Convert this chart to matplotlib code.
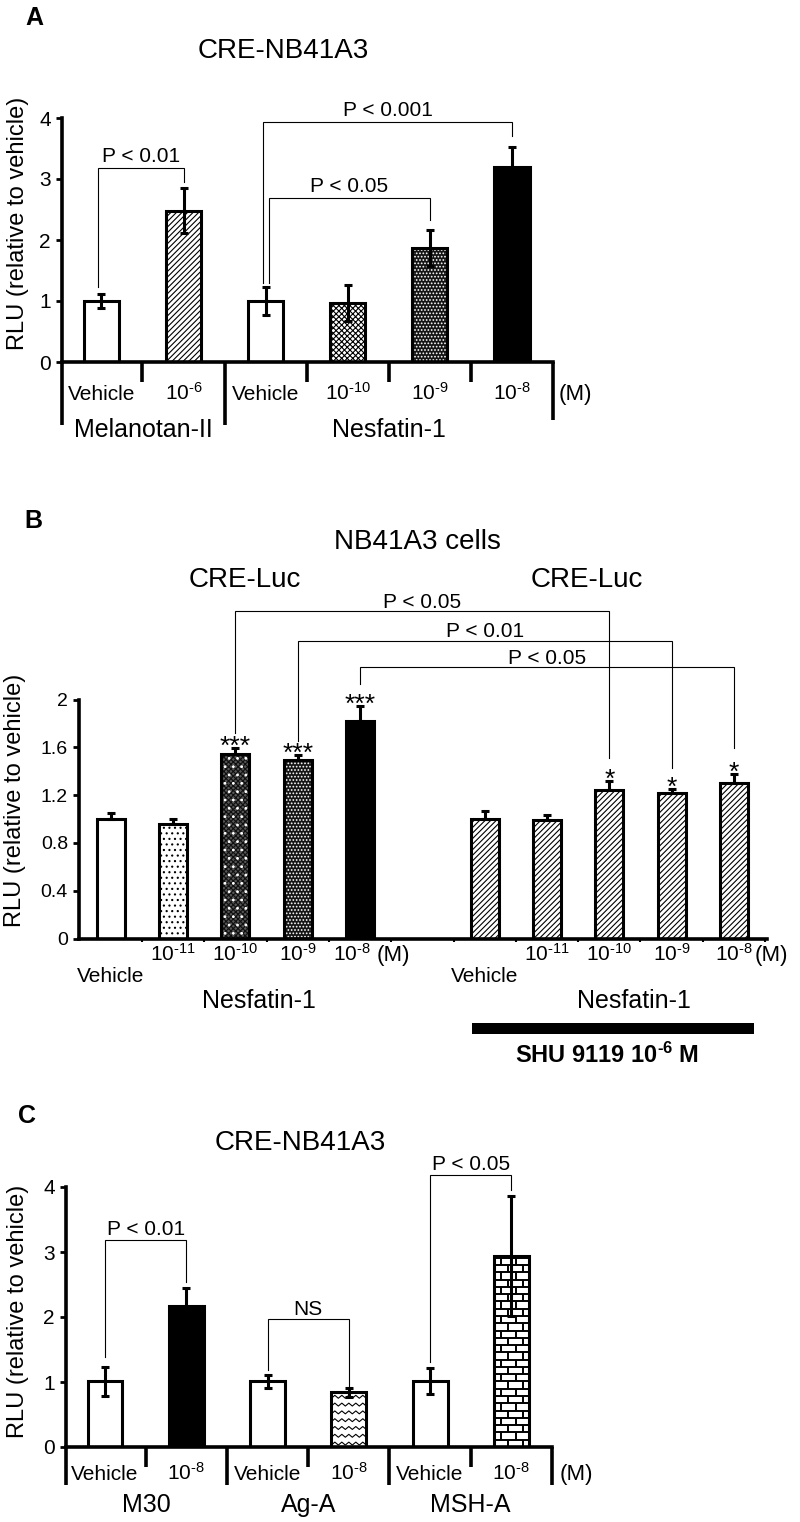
import numpy as np
import matplotlib
matplotlib.use('Agg')
import matplotlib.pyplot as plt
from matplotlib.patches import Rectangle
from matplotlib.lines import Line2D
from matplotlib.collections import LineCollection

plt.rcParams['font.family'] = ['Liberation Sans', 'DejaVu Sans']
plt.rcParams['mathtext.default'] = 'regular'
plt.rcParams['hatch.linewidth'] = 0.8

HY = '\u2010'  # hyphen used in the superscript exponents

# ---------------- Panel A data ----------------
A_labels = ['Vehicle', '$10^{%s6}$' % HY, 'Vehicle', '$10^{%s10}$' % HY, '$10^{%s9}$' % HY, '$10^{%s8}$' % HY]
A_values = [1.00, 2.48, 1.00, 0.97, 1.87, 3.19]
A_errors = [0.11, 0.37, 0.23, 0.29, 0.30, 0.33]
A_styles = ['white', 'diag', 'white', 'cross', 'darkdots', 'black']
A_groups = ['Melanotan-II', 'Nesfatin-1']
A_pvals = ['P < 0.01', 'P < 0.05', 'P < 0.001']
A_pairs = [(0, 1), (2, 4), (2, 5)]
A_bracket_h = [3.18, 2.69, 3.93]
A_leg_bottoms = [(1.23, 2.95), (1.29, 2.33), (1.29, 3.70)]
A_leg_shift = [(-0.04, 0.0), (0.04, 0.0), (-0.03, 0.0)]

# ---------------- Panel B data ----------------
B_labels = ['Vehicle', '$10^{%s11}$' % HY, '$10^{%s10}$' % HY, '$10^{%s9}$' % HY, '$10^{%s8}$' % HY]
B_ctrl = [1.00, 0.96, 1.54, 1.49, 1.82]
B_ctrl_err = [0.05, 0.04, 0.055, 0.045, 0.125]
B_shu = [1.00, 0.99, 1.245, 1.22, 1.305]
B_shu_err = [0.065, 0.04, 0.07, 0.03, 0.07]
B_ctrl_stars = ['', '', '***', '***', '***']
B_shu_stars = ['', '', '*', '*', '*']
B_ctrl_styles = ['white', 'dots', 'graycheck', 'darkdots', 'black']
B_shu_styles = ['diag', 'diag', 'diag', 'diag', 'diag']
B_pvals = ['P < 0.05', 'P < 0.01', 'P < 0.05']
B_pairs = [(2, 8), (3, 9), (4, 10)]
B_bracket_h = [2.74, 2.49, 2.27]
B_leg_bottoms = [(1.72, 1.51), (1.65, 1.43), (2.13, 1.59)]
B_yticks = [0, 0.4, 0.8, 1.2, 1.6, 2.0]
B_yticklabels = ['0', '0.4', '0.8', '1.2', '1.6', '2']

# ---------------- Panel C data ----------------
C_labels = ['Vehicle', '$10^{%s8}$' % HY] * 3
C_values = [1.01, 2.17, 1.01, 0.84, 1.01, 2.94]
C_errors = [0.22, 0.28, 0.10, 0.07, 0.20, 0.92]
C_styles = ['white', 'black', 'white', 'zigzag', 'white', 'brick']
C_groups = ['M30', 'Ag-A', 'MSH-A']
C_pvals = ['P < 0.01', 'NS', 'P < 0.05']
C_pairs = [(0, 1), (2, 3), (4, 5)]
C_bracket_h = [3.18, 1.97, 4.18]
C_leg_bottoms = [(1.38, 2.54), (1.18, 0.92), (1.31, 3.95)]

LW = 2.2
SPW = 2.6
W_FIG, H_FIG = 800, 1522

fig = plt.figure(figsize=(8.0, 15.22), dpi=100)


def ax_rect(left, right, top, bottom):
    return [left / W_FIG, 1 - bottom / H_FIG, (right - left) / W_FIG, (bottom - top) / H_FIG]


def ftext(px, py, s, **kw):
    fig.text(px / W_FIG, 1 - py / H_FIG, s, **kw)


def clip_to(artist, patch):
    artist.set_clip_path(patch.get_path(), patch.get_transform())


def draw_bar(ax, x, h, w, style):
    if style == 'white':
        ax.bar(x, h, w, facecolor='white', edgecolor='black', linewidth=LW, zorder=2)
    elif style == 'black':
        ax.bar(x, h, w, facecolor='black', edgecolor='black', linewidth=LW, zorder=2)
    elif style == 'diag':
        ax.bar(x, h, w, facecolor='white', edgecolor='black', hatch='//////', linewidth=LW, zorder=2)
    elif style == 'cross':
        ax.bar(x, h, w, facecolor='white', edgecolor='black', hatch='xxxxxx', linewidth=LW, zorder=2)
    elif style == 'dots':
        ax.bar(x, h, w, facecolor='white', edgecolor='black', hatch='...', linewidth=LW, zorder=2)
    elif style == 'darkdots':
        ax.bar(x, h, w, facecolor='#151515', edgecolor='white', hatch='.....', linewidth=0, zorder=2)
        ax.bar(x, h, w, fill=False, edgecolor='black', linewidth=LW, zorder=2.2)
    elif style == 'graycheck':
        ax.bar(x, h, w, facecolor='#555555', edgecolor='#101010', hatch='xxxxxxx', linewidth=0, zorder=2)
        ax.bar(x, h, w, fill=False, edgecolor='white', hatch='..', linewidth=0, zorder=2.1)
        ax.bar(x, h, w, fill=False, edgecolor='black', linewidth=LW, zorder=2.2)
    elif style == 'zigzag':
        bars = ax.bar(x, h, w, facecolor='white', edgecolor='black', linewidth=0, zorder=2)
        patch = bars[0]
        x0, x1 = x - w / 2, x + w / 2
        xs = np.linspace(x0, x1, 11)
        for r in np.arange(0.03, h + 0.1, 0.12):
            ys = r + 0.045 * (np.arange(len(xs)) % 2)
            ln = Line2D(xs, ys, color='black', lw=0.8, zorder=2.1)
            ax.add_line(ln)
            clip_to(ln, patch)
        ax.bar(x, h, w, fill=False, edgecolor='black', linewidth=LW, zorder=2.2)
    elif style == 'brick':
        bars = ax.bar(x, h, w, facecolor='white', edgecolor='black', linewidth=0, zorder=2)
        patch = bars[0]
        x0, x1 = x - w / 2, x + w / 2
        rh = 0.112
        bw = w / 2.4
        segs = []
        rows = np.arange(0, h + rh, rh)
        for i, r in enumerate(rows):
            segs.append([(x0, r), (x1, r)])
            off = (i % 2) * bw / 2
            for vx in np.arange(x0 + off, x1 + bw, bw):
                segs.append([(vx, r), (vx, r + rh)])
        lc = LineCollection(segs, colors='black', linewidths=1.4, zorder=2.1)
        ax.add_collection(lc, autolim=False)
        clip_to(lc, patch)
        ax.bar(x, h, w, fill=False, edgecolor='black', linewidth=LW, zorder=2.2)


def bracket(ax, xl, xr, h, yl, yr, text, offset, xt=None):
    ax.plot([xl, xl, xr, xr], [yl, h, h, yr], color='black', lw=0.8,
            clip_on=False, zorder=5, solid_joinstyle='miter')
    if xt is None:
        xt = (xl + xr) / 2
    ax.annotate(text, xy=(xt, h), xytext=(0, offset), textcoords='offset points',
                ha='center', va='baseline', fontsize=15, annotation_clip=False)


def style_axes(ax):
    for s in ['top', 'right']:
        ax.spines[s].set_visible(False)
    for s in ['left', 'bottom']:
        ax.spines[s].set_linewidth(SPW)
        ax.spines[s].set_capstyle('projecting')
    ax.tick_params(axis='y', direction='out', length=4, width=2, pad=4)
    ax.patch.set_alpha(0)


# ======================= Panel A =======================
axA = fig.add_axes(ax_rect(62, 553, 118, 362))
style_axes(axA)
xA = np.arange(len(A_values))
wA = 0.43
for x, v, st in zip(xA, A_values, A_styles):
    draw_bar(axA, x, v, wA, st)
axA.errorbar(xA, A_values, yerr=A_errors, fmt='none', ecolor='black',
             elinewidth=LW, capsize=3.2, capthick=LW, zorder=4)
axA.set_xlim(-0.48, 5.5)
axA.set_ylim(0, 4)
axA.set_yticks([0, 1, 2, 3, 4])
axA.tick_params(axis='y', labelsize=15)
axA.set_xticks([])
axA.plot([-0.48, -0.48], [0, -1.04], color='black', lw=SPW, clip_on=False, solid_capstyle='butt')
for b in [0.5, 1.5, 2.5, 3.5, 4.5, 5.5]:
    depth = {1.5: -1.04, 5.5: -0.95}.get(b, -0.33)
    axA.plot([b, b], [0, depth], color='black', lw=SPW, clip_on=False, solid_capstyle='butt')
for x, lab in zip(xA, A_labels):
    axA.text(x, -0.62, lab, ha='center', va='baseline', fontsize=15, clip_on=False)
axA.text(5.77, -0.62, '(M)', ha='center', va='baseline', fontsize=16)
axA.text(0.51, -1.23, A_groups[0], ha='center', va='baseline', fontsize=18)
axA.text(3.5, -1.23, A_groups[1], ha='center', va='baseline', fontsize=18)
for (i, j), h, (yl, yr), (sl, sr), t in zip(A_pairs, A_bracket_h, A_leg_bottoms, A_leg_shift, A_pvals):
    bracket(axA, i + sl, j + sr, h, yl, yr, t, 4.5)

ftext(34, 25, 'A', fontsize=18, fontweight='bold', ha='center', va='baseline')
ftext(283, 58, 'CRE-NB41A3', fontsize=20, ha='center', va='baseline')
ftext(18, 223, 'RLU (relative to vehicle)', fontsize=17, rotation=90, ha='center', va='center')

# ======================= Panel B =======================
axB = fig.add_axes(ax_rect(79, 767, 699.5, 938.5))
style_axes(axB)
xB_ctrl = np.arange(5)
xB_shu = np.arange(5) + 6
wB = 0.45
for x, v, st in zip(xB_ctrl, B_ctrl, B_ctrl_styles):
    draw_bar(axB, x, v, wB, st)
for x, v, st in zip(xB_shu, B_shu, B_shu_styles):
    draw_bar(axB, x, v, wB, st)
axB.errorbar(xB_ctrl, B_ctrl, yerr=[np.zeros(5), B_ctrl_err], fmt='none', ecolor='black',
             elinewidth=LW, capsize=3.2, capthick=LW, zorder=4)
axB.errorbar(xB_shu, B_shu, yerr=[np.zeros(5), B_shu_err], fmt='none', ecolor='black',
             elinewidth=LW, capsize=3.2, capthick=LW, zorder=4)
for x, v, e, s in zip(xB_ctrl, B_ctrl, B_ctrl_err, B_ctrl_stars):
    if s:
        axB.text(x, v + e - 0.05, s, ha='center', va='baseline', fontsize=19)
for x, v, e, s in zip(xB_shu, B_shu, B_shu_err, B_shu_stars):
    if s:
        axB.text(x, v + e - 0.05, s, ha='center', va='baseline', fontsize=19)
axB.set_xlim(-0.51, 10.53)
axB.set_ylim(0, 2)
axB.set_yticks(B_yticks)
axB.set_yticklabels(B_yticklabels)
axB.tick_params(axis='y', labelsize=14)
axB.set_xticks(np.arange(0.5, 11, 1))
axB.set_xticklabels([])
axB.tick_params(axis='x', direction='out', length=2.5, width=1.5)
for xs in (xB_ctrl, xB_shu):
    for k, (x, lab) in enumerate(zip(xs, B_labels)):
        if k == 0:
            axB.text(x, -0.365, lab, ha='center', va='baseline', fontsize=15)
        elif k == 4:
            axB.text(x - (0.13 if x < 5 else 0.0), -0.19, lab, ha='center', va='baseline', fontsize=15)
        else:
            axB.text(x, -0.19, lab, ha='center', va='baseline', fontsize=15)
axB.text(4.53, -0.19, '(M)', ha='center', va='baseline', fontsize=16)
axB.text(10.6, -0.19, '(M)', ha='center', va='baseline', fontsize=16)
axB.text(2.38, -0.58, 'Nesfatin-1', ha='center', va='baseline', fontsize=18)
axB.text(8.39, -0.58, 'Nesfatin-1', ha='center', va='baseline', fontsize=18)
axB.add_patch(Rectangle((5.79, -0.80), 4.53, 0.092, facecolor='black', edgecolor='none', clip_on=False))
axB.text(7.96, -1.04, 'SHU 9119 $10^{%s6}$ M' % HY, ha='center', va='baseline', fontsize=17, fontweight='bold')
for (i, j), h, (yl, yr), t in zip(B_pairs, B_bracket_h, B_leg_bottoms, B_pvals):
    bracket(axB, i, j, h, yl, yr, t, 2.5)

ftext(33, 528, 'B', fontsize=18, fontweight='bold', ha='center', va='baseline')
ftext(417, 549, 'NB41A3 cells', fontsize=20, ha='center', va='baseline')
ftext(245, 587, 'CRE-Luc', fontsize=20, ha='center', va='baseline')
ftext(587, 587, 'CRE-Luc', fontsize=20, ha='center', va='baseline')
ftext(15, 800, 'RLU (relative to vehicle)', fontsize=17, rotation=90, ha='center', va='center')

# ======================= Panel C =======================
axC = fig.add_axes(ax_rect(66, 552, 1187, 1447))
style_axes(axC)
xC = np.arange(len(C_values))
wC = 0.43
for x, v, st in zip(xC, C_values, C_styles):
    draw_bar(axC, x, v, wC, st)
axC.errorbar(xC, C_values, yerr=C_errors, fmt='none', ecolor='black',
             elinewidth=LW, capsize=3.2, capthick=LW, zorder=4)
axC.set_xlim(-0.48, 5.5)
axC.set_ylim(0, 4)
axC.set_yticks([0, 1, 2, 3, 4])
axC.tick_params(axis='y', labelsize=15)
axC.set_xticks([])
axC.plot([-0.48, -0.48], [0, -0.59], color='black', lw=SPW, clip_on=False, solid_capstyle='butt')
for b in [0.5, 1.5, 2.5, 3.5, 4.5, 5.5]:
    depth = -0.59 if b in (1.5, 3.5, 5.5) else -0.31
    axC.plot([b, b], [0, depth], color='black', lw=SPW, clip_on=False, solid_capstyle='butt')
for x, lab in zip(xC, C_labels):
    axC.text(x, -0.51, lab, ha='center', va='baseline', fontsize=15)
axC.text(5.8, -0.51, '(M)', ha='center', va='baseline', fontsize=16)
for k, g in enumerate(C_groups):
    axC.text([0.51, 2.5, 4.5][k], -1.0, g, ha='center', va='baseline', fontsize=18)
for (i, j), h, (yl, yr), t, off in zip(C_pairs, C_bracket_h, C_leg_bottoms, C_pvals, [3.5, 2.5, 4]):
    bracket(axC, i, j, h, yl, yr, t, off)

ftext(27, 1123, 'C', fontsize=18, fontweight='bold', ha='center', va='baseline')
ftext(300, 1150, 'CRE-NB41A3', fontsize=20, ha='center', va='baseline')
ftext(18, 1311, 'RLU (relative to vehicle)', fontsize=17, rotation=90, ha='center', va='center')

fig.savefig('out.png', dpi=100, facecolor='white')
